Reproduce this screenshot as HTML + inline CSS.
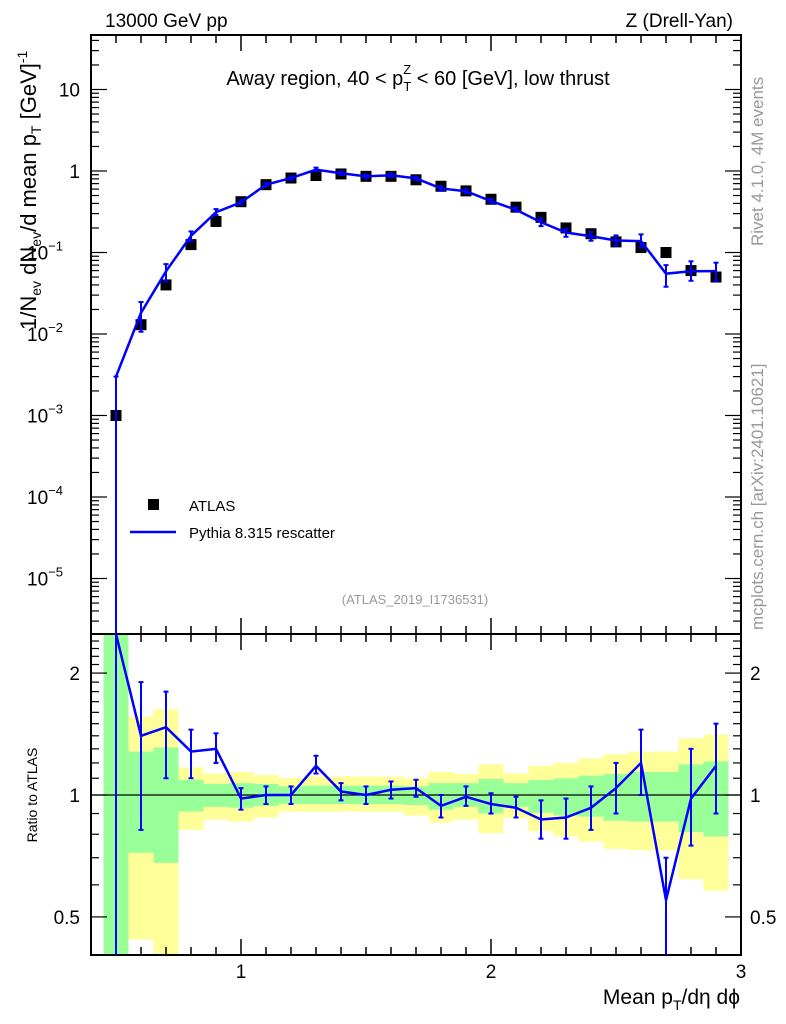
<!DOCTYPE html>
<html><head><meta charset="utf-8"><style>
body{margin:0;background:#fff;}
svg{display:block;font-family:"Liberation Sans",Arial,sans-serif;}
</style></head><body>
<svg id="chart" width="786" height="1024" viewBox="0 0 786 1024" xmlns="http://www.w3.org/2000/svg">
<g id="bands"></g>
<g id="axes"></g>
<g id="series"></g>
<text x="105" y="27" font-size="19">13000 GeV pp</text>
<text x="733" y="27" font-size="19" text-anchor="end">Z (Drell-Yan)</text>
<text x="418" y="85" font-size="20" text-anchor="middle">Away region, 40 &lt; p<tspan font-size="13" dy="6">T</tspan><tspan font-size="13" dx="-8" dy="-17">Z</tspan><tspan dy="11"> &lt; 60 [GeV], low thrust</tspan></text>
<text x="415" y="604" font-size="13" fill="#999" text-anchor="middle">(ATLAS_2019_I1736531)</text>
<text transform="translate(763,246) rotate(-90)" font-size="17" fill="#999">Rivet 4.1.0,  4M events</text>
<text transform="translate(763,630) rotate(-90)" font-size="17" fill="#999">mcplots.cern.ch [arXiv:2401.10621]</text>
<text transform="translate(36,330) rotate(-90)" font-size="22">1/N<tspan font-size="14" dy="5">ev</tspan><tspan dy="-5"> dN</tspan><tspan font-size="14" dy="5">ev</tspan><tspan dy="-5">/d mean p</tspan><tspan font-size="14" dy="5">T</tspan><tspan dy="-5">  [GeV]</tspan><tspan font-size="14" dy="-9">-1</tspan></text>
<text transform="translate(37,795) rotate(-90)" font-size="14" text-anchor="middle">Ratio to ATLAS</text>
<text x="740" y="1004" font-size="21" text-anchor="end">Mean p<tspan font-size="14" dy="6">T</tspan><tspan dy="-6">/dη dϕ</tspan></text>
<rect x="148" y="499" width="11" height="11" fill="#000"/>
<text x="189" y="511" font-size="15">ATLAS</text>
<line x1="130" y1="532" x2="176" y2="532" stroke="#00f" stroke-width="2.5"/>
<text x="189" y="538" font-size="15">Pythia 8.315 rescatter</text>
</svg>
<script>
const xs=[0.5,0.6,0.7,0.8,0.9,1.0,1.1,1.2,1.3,1.4,1.5,1.6,1.7,1.8,1.9,2.0,2.1,2.2,2.3,2.4,2.5,2.6,2.7,2.8,2.9];
const atlas=[0.001,0.013,0.04,0.125,0.24,0.42,0.68,0.82,0.88,0.92,0.86,0.86,0.78,0.65,0.57,0.45,0.36,0.27,0.2,0.17,0.135,0.115,0.1,0.06,0.05];
const ratio=[3.0,1.4,1.47,1.28,1.3,0.98,1.0,1.0,1.18,1.02,1.0,1.03,1.04,0.94,0.99,0.95,0.93,0.87,0.88,0.93,1.04,1.2,0.55,0.98,1.18];
const ratioLo=[0.001,0.82,1.1,1.1,1.2,0.92,0.95,0.95,1.13,0.97,0.95,0.98,0.99,0.88,0.94,0.9,0.88,0.78,0.78,0.82,0.9,1.0,0.38,0.75,0.9];
const ratioHi=[3.0,1.9,1.8,1.45,1.42,1.04,1.05,1.05,1.25,1.07,1.05,1.08,1.09,1.0,1.05,1.01,0.99,0.97,0.98,1.05,1.2,1.45,0.7,1.3,1.5];
const yelHi=[3,1.56,1.63,1.17,1.13,1.14,1.12,1.10,1.11,1.11,1.11,1.11,1.10,1.14,1.127,1.19,1.13,1.18,1.20,1.23,1.26,1.28,1.28,1.38,1.41];
const grnHi=[3,1.28,1.31,1.09,1.065,1.07,1.065,1.05,1.055,1.055,1.055,1.055,1.05,1.07,1.07,1.095,1.07,1.09,1.10,1.116,1.127,1.14,1.14,1.19,1.21];
const grnLo=[0.3,0.72,0.68,0.91,0.935,0.93,0.94,0.95,0.95,0.95,0.95,0.95,0.945,0.92,0.935,0.90,0.935,0.904,0.89,0.884,0.864,0.86,0.86,0.81,0.79];
const yelLo=[0.3,0.44,0.3,0.82,0.87,0.86,0.88,0.91,0.91,0.91,0.91,0.91,0.89,0.855,0.87,0.805,0.877,0.815,0.79,0.767,0.736,0.73,0.73,0.62,0.58];
const xTicks=[1,2,3];
const yTicks=[10,1,0.1,0.01,0.001,0.0001,0.00001];
const yTickLabels=[["10",""],["1",""],["10","−1"],["10","−2"],["10","−3"],["10","−4"],["10","−5"]];
const rTicks=[0.5,1,2];

const L=91,R=741,T=35,MB=634,RB=955;
const NS="http://www.w3.org/2000/svg";
const X=v=>241+(v-1)*250;
const Y=v=>171-(Math.log10(v))*81.5;
const RY=v=>795-Math.log10(v)*405;
const svg=document.getElementById('chart');
function mk(tag,attrs,parent){const e=document.createElementNS(NS,tag);for(const k in attrs)e.setAttribute(k,attrs[k]);(parent||svg).appendChild(e);return e;}
const bands=document.getElementById('bands'),axes=document.getElementById('axes'),series=document.getElementById('series');
const clampR=v=>Math.min(RB,Math.max(MB,v));
xs.forEach((x,i)=>{
  const x0=Math.max(L,X(x-0.05)),x1=X(x+0.05);
  const y=mk('rect',{x:x0,y:clampR(RY(yelHi[i])),width:x1-x0,height:clampR(RY(yelLo[i]))-clampR(RY(yelHi[i])),fill:'#ffff99'},bands);
  
  
  const g=mk('rect',{x:x0,y:clampR(RY(grnHi[i])),width:x1-x0,height:clampR(RY(grnLo[i]))-clampR(RY(grnHi[i])),fill:'#99ff99'},bands);
  
  
});
[[T,MB],[MB,RB]].forEach(([a,b])=>{mk('rect',{x:L,y:a,width:R-L,height:b-a,fill:'none',stroke:'#000','stroke-width':2},axes);});
mk('line',{x1:L,y1:RY(1),x2:R,y2:RY(1),stroke:'#000','stroke-width':1.2},axes);
for(let k=0;k<=26;k++){const v=0.4+k*0.1;const px=X(v);if(px<L||px>R)continue;const major=Math.abs(v-Math.round(v))<1e-6;const len=major?16:8;
  [[T,1],[MB,-1],[MB,1],[RB,-1]].forEach(([y0,d])=>mk('line',{x1:px,y1:y0,x2:px,y2:y0+d*len,stroke:'#000','stroke-width':1.5},axes));}
xTicks.forEach(v=>{const t=mk('text',{x:X(v),y:978,'font-size':19,'text-anchor':'middle'},axes);t.textContent=v;
  
  });
for(let d=-6;d<=1;d++){for(let m=1;m<=9;m++){const v=m*Math.pow(10,d);const py=Y(v);if(py<T||py>MB)continue;const len=m==1?16:8;
  mk('line',{x1:L,y1:py,x2:L+len,y2:py,stroke:'#000','stroke-width':1.2},axes);mk('line',{x1:R,y1:py,x2:R-len,y2:py,stroke:'#000','stroke-width':1.2},axes);}}
yTicks.forEach((v,i)=>{const t=mk('text',{x:80,y:Y(v)+7,'font-size':19,'text-anchor':'end'},axes);
  
  
  if(yTickLabels[i][1]){t.setAttribute('x',63);t.textContent=yTickLabels[i][0];const s=mk('tspan',{'font-size':13,dy:-9},t);s.textContent=yTickLabels[i][1];}else t.textContent=yTickLabels[i][0];});
for(let k=4;k<=25;k++){const v=k/10;const py=RY(v);if(py<MB||py>RB)continue;const major=(v==0.5||v==1||v==2);const len=major?16:8;
  mk('line',{x1:L,y1:py,x2:L+len,y2:py,stroke:'#000','stroke-width':1.2},axes);mk('line',{x1:R,y1:py,x2:R-len,y2:py,stroke:'#000','stroke-width':1.2},axes);}
rTicks.forEach(v=>{[[80,'end'],[750,'start']].forEach(([x,a])=>{const t=mk('text',{x:x,y:RY(v)+7,'font-size':19,'text-anchor':a},axes);t.textContent=v;
  
  });});
xs.forEach((x,i)=>{const r=mk('rect',{x:X(x)-5.5,y:Y(atlas[i])-5.5,width:11,height:11,fill:'#000'},series);
  
  });
const mc=xs.map((x,i)=>atlas[i]*ratio[i]);
const clampM=v=>Math.min(MB,Math.max(T,v));
const pts=xs.map((x,i)=>X(x)+','+clampM(Y(mc[i]))).join(' ');
const pl=mk('polyline',{points:pts,fill:'none',stroke:'#00f','stroke-width':2.5},series);


xs.forEach((x,i)=>{const lo=clampM(Y(atlas[i]*ratioLo[i])),hi=clampM(Y(atlas[i]*ratioHi[i]));const px=X(x);
  const e=mk('line',{x1:px,y1:lo,x2:px,y2:hi,stroke:'#00f','stroke-width':2},series);
  
  
  [lo,hi].forEach(yy=>{if(yy>T&&yy<MB)mk('line',{x1:px-2.5,y1:yy,x2:px+2.5,y2:yy,stroke:'#00f','stroke-width':2},series);});});
const rpts=xs.map((x,i)=>X(x)+','+clampR(RY(ratio[i]))).join(' ');
const rl=mk('polyline',{points:rpts,fill:'none',stroke:'#00f','stroke-width':2.5},series);


xs.forEach((x,i)=>{const lo=clampR(RY(ratioLo[i])),hi=clampR(RY(ratioHi[i]));const px=X(x);
  const e=mk('line',{x1:px,y1:lo,x2:px,y2:hi,stroke:'#00f','stroke-width':2},series);
  
  
  [lo,hi].forEach(yy=>{if(yy>MB&&yy<RB)mk('line',{x1:px-2.5,y1:yy,x2:px+2.5,y2:yy,stroke:'#00f','stroke-width':2},series);});});
</script>
</body></html>
